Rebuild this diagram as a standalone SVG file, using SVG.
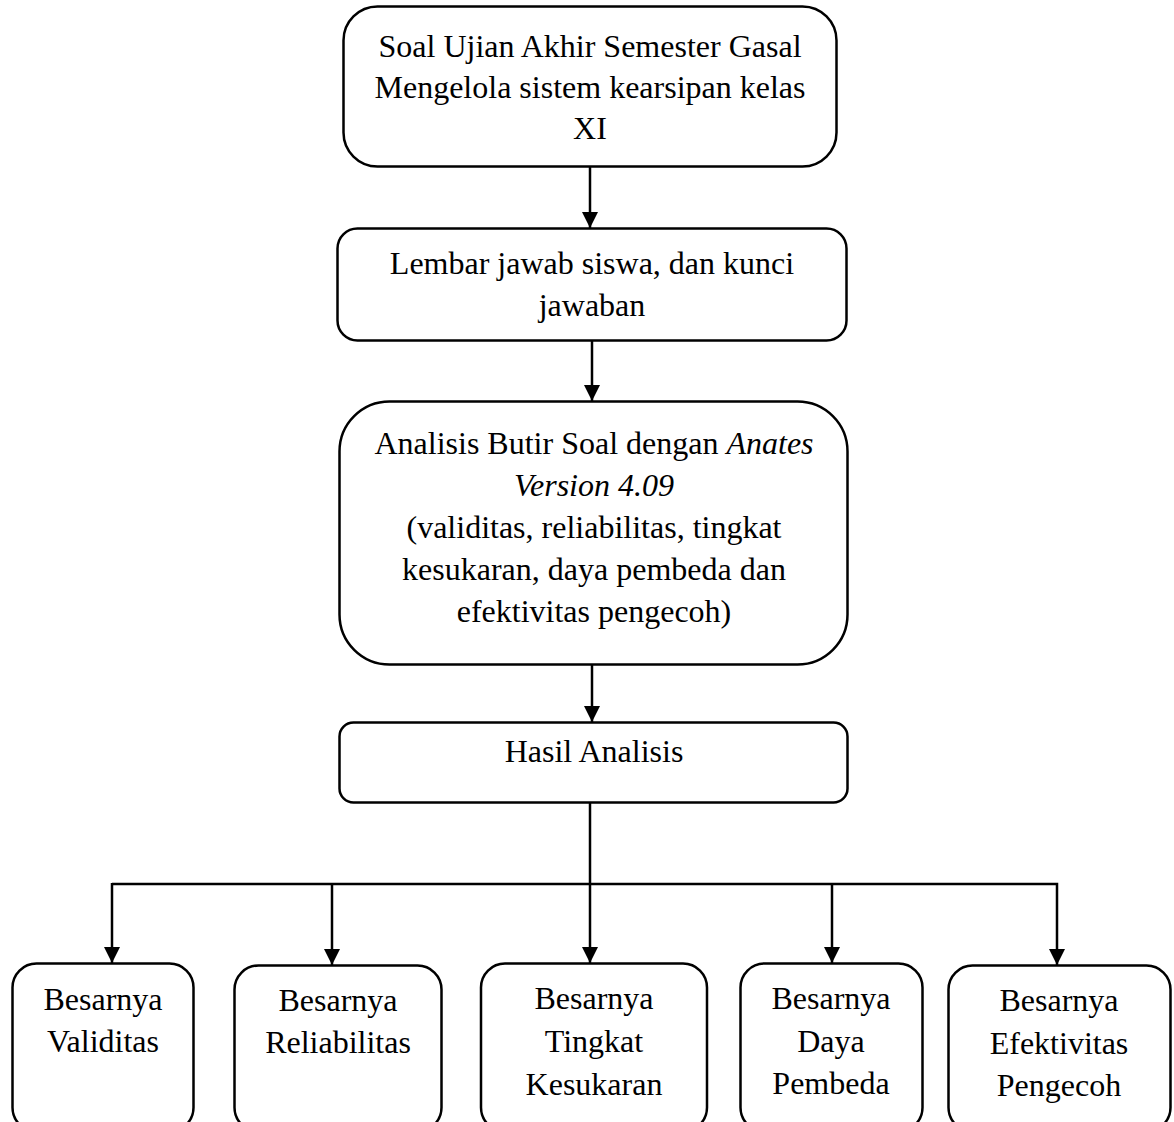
<svg xmlns="http://www.w3.org/2000/svg" width="1174" height="1122" viewBox="0 0 1174 1122">
<style>
.box{fill:#fff;stroke:#000;stroke-width:2.5}
.t{font-family:"Liberation Serif","Times New Roman",serif;font-size:32px;fill:#000;text-anchor:middle}
.it{font-style:italic}
.c{fill:none;stroke:#000;stroke-width:2.5}
</style>
<defs>
<marker id="ad" markerUnits="userSpaceOnUse" markerWidth="16" markerHeight="16" viewBox="0 0 16 16" refX="16" refY="8" orient="auto">
<path d="M0,0 L16,8 L0,16 Z" fill="#000"/>
</marker>
</defs>
<rect width="1174" height="1122" fill="#fff"/>
<g id="connectors">
<line class="c" x1="590" y1="167" x2="590" y2="228" marker-end="url(#ad)"/>
<line class="c" x1="592" y1="341" x2="592" y2="401" marker-end="url(#ad)"/>
<line class="c" x1="592" y1="665" x2="592" y2="722" marker-end="url(#ad)"/>
<line class="c" x1="590" y1="803" x2="590" y2="963" marker-end="url(#ad)"/>
<polyline class="c" points="112,884 1057,884 1057,965" marker-end="url(#ad)"/>
<line class="c" x1="112" y1="883" x2="112" y2="963" marker-end="url(#ad)"/>
<line class="c" x1="332" y1="884" x2="332" y2="965" marker-end="url(#ad)"/>
<line class="c" x1="832" y1="884" x2="832" y2="963" marker-end="url(#ad)"/>
</g>
<g id="n1">
<rect class="box" x="343.5" y="6.5" width="493" height="160" rx="34"/>
<text class="t" x="590" y="57">Soal Ujian Akhir Semester Gasal</text>
<text class="t" x="590" y="98">Mengelola sistem kearsipan kelas</text>
<text class="t" x="590" y="139">XI</text>
</g>
<g id="n2">
<rect class="box" x="337.5" y="228.5" width="509" height="112" rx="20"/>
<text class="t" x="592" y="274">Lembar jawab siswa, dan kunci</text>
<text class="t" x="592" y="316">jawaban</text>
</g>
<g id="n3">
<rect class="box" x="339.5" y="401.5" width="508" height="263" rx="50"/>
<text class="t" x="594" y="454">Analisis Butir Soal dengan <tspan class="it">Anates</tspan></text>
<text class="t it" x="594" y="496">Version 4.09</text>
<text class="t" x="594" y="538">(validitas, reliabilitas, tingkat</text>
<text class="t" x="594" y="580">kesukaran, daya pembeda dan</text>
<text class="t" x="594" y="622">efektivitas pengecoh)</text>
</g>
<g id="n4">
<rect class="box" x="339.5" y="722.5" width="508" height="80" rx="14"/>
<text class="t" x="594" y="762">Hasil Analisis</text>
</g>
<g id="n5">
<rect class="box" x="12.5" y="963.5" width="181" height="168" rx="24"/>
<text class="t" x="103" y="1010">Besarnya</text>
<text class="t" x="103" y="1052">Validitas</text>
</g>
<g id="n6">
<rect class="box" x="234.5" y="965.5" width="207" height="166" rx="24"/>
<text class="t" x="338" y="1011">Besarnya</text>
<text class="t" x="338" y="1053">Reliabilitas</text>
</g>
<g id="n7">
<rect class="box" x="481" y="963.5" width="226" height="168" rx="24"/>
<text class="t" x="594" y="1009">Besarnya</text>
<text class="t" x="594" y="1052">Tingkat</text>
<text class="t" x="594" y="1095">Kesukaran</text>
</g>
<g id="n8">
<rect class="box" x="740.5" y="963.5" width="182" height="168" rx="24"/>
<text class="t" x="831" y="1009">Besarnya</text>
<text class="t" x="831" y="1052">Daya</text>
<text class="t" x="831" y="1094">Pembeda</text>
</g>
<g id="n9">
<rect class="box" x="948.5" y="965.5" width="222" height="166" rx="24"/>
<text class="t" x="1059" y="1011">Besarnya</text>
<text class="t" x="1059" y="1054">Efektivitas</text>
<text class="t" x="1059" y="1096">Pengecoh</text>
</g>
</svg>
